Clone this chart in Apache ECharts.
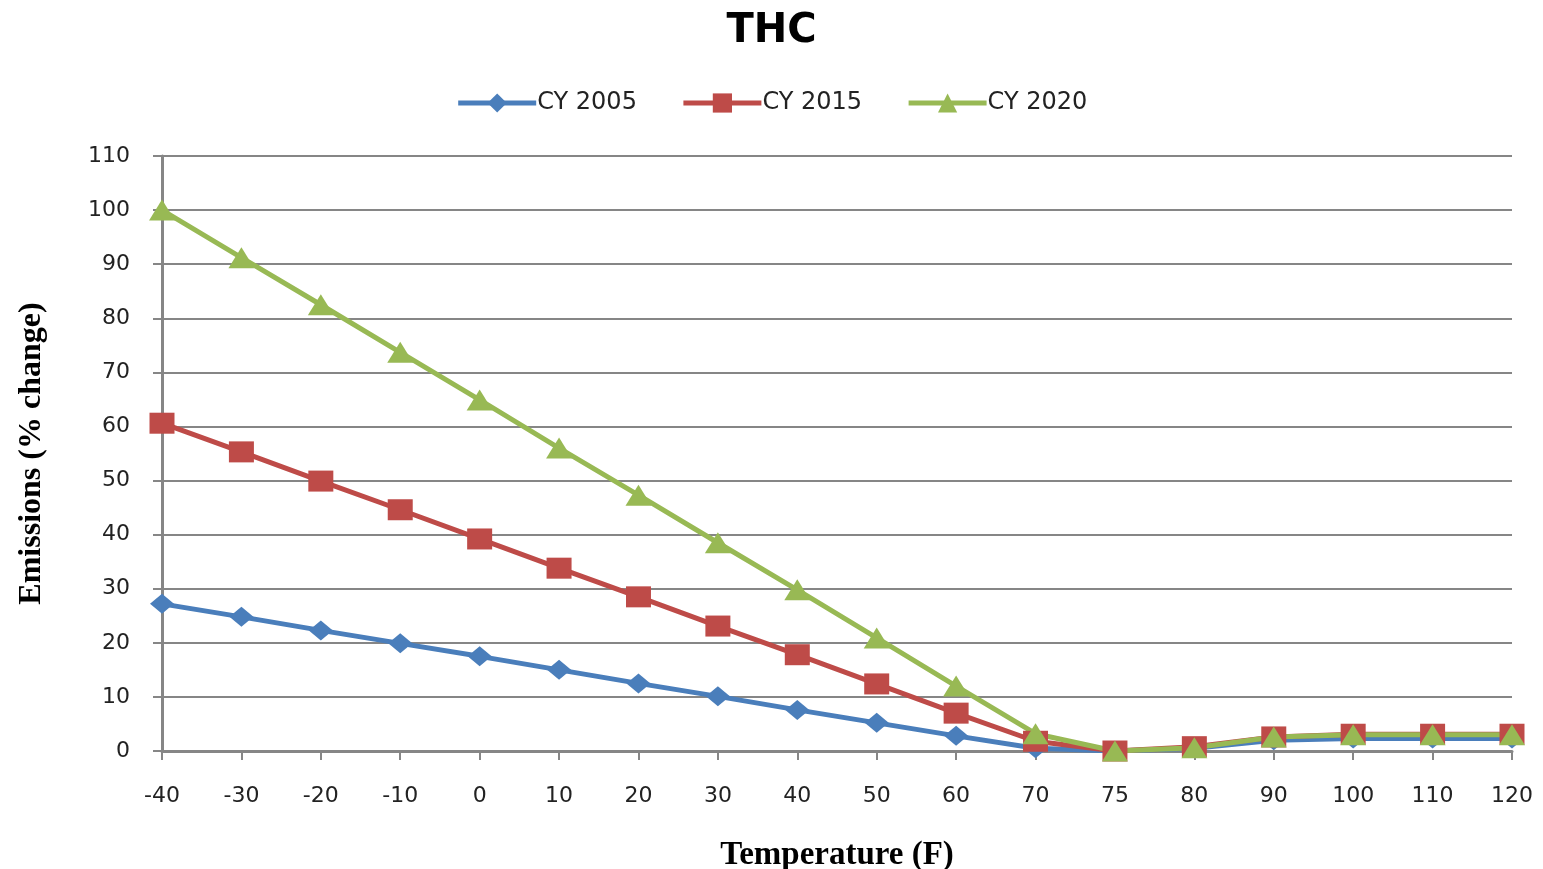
<!DOCTYPE html>
<html>
<head>
<meta charset="utf-8">
<script src="https://cdn.jsdelivr.net/npm/echarts@6/dist/echarts.min.js"></script>
<style>
  html, body { margin: 0; padding: 0; background: #fff; }
  #chart { width: 1543px; height: 869px; }
</style>
</head>
<body>
<div id="chart"></div>
<script>
// Temperature categories (F)
const temperatures = ['-40', '-30', '-20', '-10', '0', '10', '20', '30', '40', '50', '60', '70', '75', '80', '90', '100', '110', '120'];

// THC emissions, % change relative to 75 F
const cy2005 = [27.2, 24.8, 22.3, 19.9, 17.5, 15.0, 12.5, 10.1, 7.6, 5.2, 2.8, 0.5, 0, 0.5, 2.0, 2.3, 2.3, 2.3];
const cy2015 = [60.6, 55.3, 49.9, 44.6, 39.2, 33.8, 28.5, 23.1, 17.8, 12.4, 7.0, 1.8, 0, 0.8, 2.6, 3.1, 3.1, 3.1];
const cy2020 = [100, 91.2, 82.5, 73.7, 64.9, 56.0, 47.3, 38.5, 29.8, 20.9, 12.0, 3.2, 0, 0.6, 2.6, 3.0, 3.0, 3.0];

const yTicks = { min: 0, max: 110, interval: 10 };

const chart = echarts.init(document.getElementById('chart'));

const axisGray = '#868686';
const labelFont = { fontFamily: 'DejaVu Sans', fontSize: 22, color: '#222' };

function lineSeries(name, data, color, symbol, size) {
  return {
    name: name,
    type: 'line',
    data: data,
    symbol: symbol,
    symbolSize: size,
    showSymbol: true,
    lineStyle: { color: color, width: 5 },
    itemStyle: { color: color },
    emphasis: { disabled: true },
    animation: false
  };
}

chart.setOption({
  backgroundColor: '#ffffff',
  animation: false,
  title: {
    text: 'THC',
    left: 'center',
    top: 7,
    textStyle: { fontFamily: 'DejaVu Sans', fontWeight: 'bold', fontSize: 40, color: '#000' }
  },
  legend: {
    top: 86,
    left: 'center',
    itemWidth: 78,
    itemHeight: 24,
    itemGap: 44,
    textStyle: { fontFamily: 'DejaVu Sans', fontSize: 24, color: '#222', padding: [0, 0, 0, -4] },
    lineStyle: { width: 5 },
    data: ['CY 2005', 'CY 2015', 'CY 2020']
  },
  grid: { left: 162, right: 31, top: 156, bottom: 118, containLabel: false, outerBoundsMode: 'none' },
  xAxis: {
    type: 'category',
    data: temperatures,
    boundaryGap: false,
    name: 'Temperature (F)',
    nameLocation: 'middle',
    nameGap: 88,
    nameTextStyle: { fontFamily: 'Liberation Serif', fontWeight: 'bold', fontSize: 33, color: '#000' },
    axisLine: { lineStyle: { color: axisGray, width: 3 } },
    axisTick: { show: true, alignWithLabel: true, length: 9, lineStyle: { color: axisGray, width: 2 } },
    axisLabel: Object.assign({ margin: 34, interval: 0 }, labelFont),
    splitLine: { show: false }
  },
  yAxis: {
    type: 'value',
    min: yTicks.min,
    max: yTicks.max,
    interval: yTicks.interval,
    name: 'Emissions (% change)',
    nameLocation: 'middle',
    nameRotate: 90,
    nameGap: 114,
    nameTextStyle: { fontFamily: 'Liberation Serif', fontWeight: 'bold', fontSize: 32, color: '#000' },
    axisLine: { show: true, lineStyle: { color: axisGray, width: 3 } },
    axisTick: { show: true, length: 9, lineStyle: { color: axisGray, width: 2 } },
    axisLabel: Object.assign({ margin: 32 }, labelFont),
    splitLine: { show: true, lineStyle: { color: axisGray, width: 2 } }
  },
  series: [
    lineSeries('CY 2005', cy2005, '#4a7ebb', 'diamond', [24, 20]),
    lineSeries('CY 2015', cy2015, '#be4b48', 'rect', [25, 21]),
    lineSeries('CY 2020', cy2020, '#98b954', 'triangle', [26, 21])
  ]
});
</script>
</body>
</html>
